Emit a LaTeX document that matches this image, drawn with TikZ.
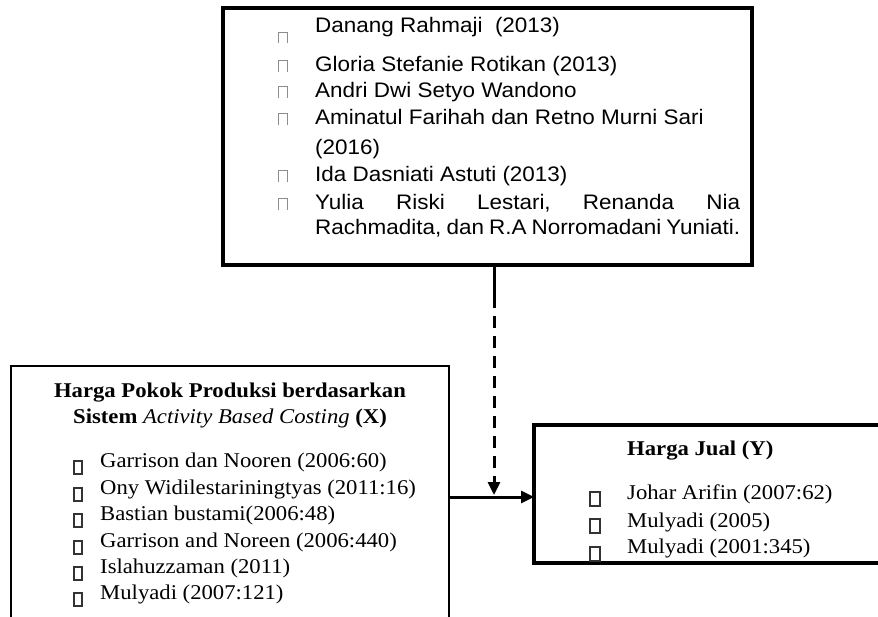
\documentclass[tikz,border=0pt]{standalone}
\usepackage{fontspec}
\setmainfont{Liberation Serif}[FakeStretch=1.08]
\newfontfamily\arialf{Liberation Sans}[FakeStretch=1.07]
\usetikzlibrary{arrows.meta}
\begin{document}
\begin{tikzpicture}[x=1pt,y=-1pt,
  box/.style={draw,anchor=north west,inner sep=0pt,outer sep=0pt},
  txt/.style={anchor=base west,inner sep=0pt,font=\fontsize{21}{25}\selectfont},
  atxt/.style={anchor=base west,inner sep=0pt,font=\arialf\fontsize{21}{25}\selectfont},
  btxt/.style={anchor=base,inner sep=0pt,font=\bfseries\fontsize{21}{25}\selectfont},
  gbul/.style={draw=black!45,line width=0.9pt},
  dbul/.style={draw=black!80,line width=1.5pt},
  conn/.style={line width=3pt},
  arrowtip/.style={-{Triangle[length=13pt,width=12pt]}}]
\useasboundingbox (0,0) rectangle (878,617);
\clip (0,0) rectangle (878,617);
\fill[white] (0,0) rectangle (878,617);

% boxes
\node[box,line width=3.4pt,minimum width=529pt,minimum height=257pt] (refs) at (223,8) {};
\node[box,line width=2.4pt,minimum width=438pt,minimum height=400pt] (abc) at (11,366) {};
\node[box,line width=3.2pt,minimum width=400pt,minimum height=138pt] (hj) at (534,425) {};

% top box texts
\node[atxt] (r1) at (315,33) {Danang Rahmaji\ \ (2013)};
\node[atxt] (r2) at (315,72) {Gloria Stefanie Rotikan (2013)};
\node[atxt] (r3) at (315,98) {Andri Dwi Setyo Wandono};
\node[atxt] (r4) at (315,125) {Aminatul Farihah dan Retno Murni Sari};
\node[atxt] (r5) at (315,155) {(2016)};
\node[atxt] (r6) at (315,182) {Ida Dasniati Astuti (2013)};
\node[atxt] (r7) at (315,210) {\makebox[425pt]{Yulia\hfill Riski\hfill Lestari,\hfill Renanda\hfill Nia}};
\node[atxt] (r8) at (315,235) {\makebox[425pt][s]{Rachmadita, dan R.A Norromadani Yuniati.}};
\foreach \t/\h in {32/11,60/12,86/12,113/12,170/12,198/12}
  \draw[gbul] (278,\t+\h) -- (278,\t) -- (287,\t) -- (287,\t+\h);

% left box
\node[btxt] (x1) at (230,397) {Harga Pokok Produksi berdasarkan};
\node[btxt] (x2) at (230,424) {Sistem \textmd{\itshape Activity Based Costing} (X)};
\node[txt] (l1) at (100,467) {Garrison dan Nooren (2006:60)};
\node[txt] (l2) at (100,494) {Ony Widilestariningtyas (2011:16)};
\node[txt] (l3) at (100,520) {Bastian bustami(2006:48)};
\node[txt] (l4) at (100,547) {Garrison and Noreen (2006:440)};
\node[txt] (l5) at (100,573) {Islahuzzaman (2011)};
\node[txt] (l6) at (100,599) {Mulyadi (2007:121)};
\foreach \b in {467,494,520,547,573,599}
  \draw[dbul] (74,\b-6) rectangle (82,\b+7);

% right box
\node[btxt,anchor=base west] (y0) at (627,455) {Harga Jual (Y)};
\node[txt] (y1) at (627,499) {Johar Arifin (2007:62)};
\node[txt] (y2) at (627,527) {Mulyadi (2005)};
\node[txt] (y3) at (627,553) {Mulyadi (2001:345)};
\foreach \t in {492,519,547}
  \draw[dbul] (590,\t) rectangle (600,\t+14);

% connectors
\coordinate (j) at (494,497);
\coordinate (bend) at (494,308);
\coordinate (tipend) at (494,495);
\draw[conn] (refs.south -| bend) -- (bend);
\draw[conn,dash pattern=on 12pt off 8pt,dash phase=12pt,arrowtip] (bend) -- (tipend);
\draw[conn,arrowtip] (abc.east |- j) -- (hj.west |- j);
\end{tikzpicture}
\end{document}
